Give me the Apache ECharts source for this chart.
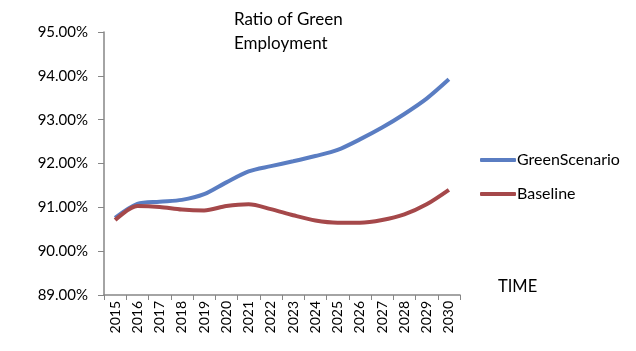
<!DOCTYPE html>
<html><head><meta charset="utf-8">
<script src="https://cdn.jsdelivr.net/npm/echarts@6/dist/echarts.min.js"></script>
<style>html,body{margin:0;padding:0;background:#fff}#c{width:636px;height:351px}</style>
</head><body><div id="c"></div>
<script>
const years = ['2015','2016','2017','2018','2019','2020','2021','2022','2023','2024','2025','2026','2027','2028','2029','2030'];
const greenScenario = [90.76,91.08,91.13,91.17,91.30,91.57,91.82,91.94,92.05,92.17,92.31,92.55,92.82,93.13,93.48,93.92];
const baseline = [90.71,91.03,91.01,90.95,90.93,91.03,91.07,90.96,90.82,90.70,90.65,90.65,90.71,90.84,91.07,91.40];
const yTicks = {min: 89, max: 95, interval: 1};
const FONT = 'Lato, "Open Sans", sans-serif';
const chart = echarts.init(document.getElementById('c'), null, {renderer: 'canvas'});
chart.setOption({
  animation: false,
  backgroundColor: '#fff',
  title: {
    text: 'Ratio of Green\nEmployment',
    left: 229, top: 3,
    textStyle: {fontFamily: FONT, fontSize: 17, fontWeight: 'normal', color: '#000', lineHeight: 24}
  },
  legend: {
    orient: 'vertical', left: 475, top: 147, itemGap: 18,
    itemWidth: 36, itemHeight: 4, icon: 'roundRect',
    textStyle: {fontFamily: FONT, fontSize: 16, color: '#000', padding: [0,0,0,-4]},
    data: ['GreenScenario', 'Baseline']
  },
  graphic: [{type: 'text', left: 498, top: 278, style: {text: 'TIME', font: '16.5px ' + FONT, fill: '#000'}}],
  grid: {left: 104, right: 176, top: 32, bottom: 56, containLabel: false},
  xAxis: {
    type: 'category', data: years, boundaryGap: true,
    axisLine: {lineStyle: {color: '#868686', width: 1.5}},
    axisTick: {show: true, alignWithLabel: false, length: 5, lineStyle: {color: '#868686'}},
    axisLabel: {rotate: 90, interval: 0, fontFamily: FONT, fontSize: 14, color: '#000', margin: 6}
  },
  yAxis: {
    type: 'value', min: yTicks.min, max: yTicks.max, interval: yTicks.interval,
    axisLine: {show: true, lineStyle: {color: '#868686', width: 1.5}},
    axisTick: {show: true, length: 6, lineStyle: {color: '#868686'}},
    splitLine: {show: false},
    axisLabel: {fontFamily: FONT, fontSize: 15, color: '#000', margin: 16,
      formatter: v => v.toFixed(2) + '%'}
  },
  series: [
    {name: 'GreenScenario', type: 'line', data: greenScenario, smooth: 0.3, symbol: 'none',
     lineStyle: {width: 4, color: '#5A7DC2'}, itemStyle: {color: '#5A7DC2'}},
    {name: 'Baseline', type: 'line', data: baseline, smooth: 0.3, symbol: 'none',
     lineStyle: {width: 4, color: '#A5484A'}, itemStyle: {color: '#A5484A'}}
  ]
});
</script></body></html>
